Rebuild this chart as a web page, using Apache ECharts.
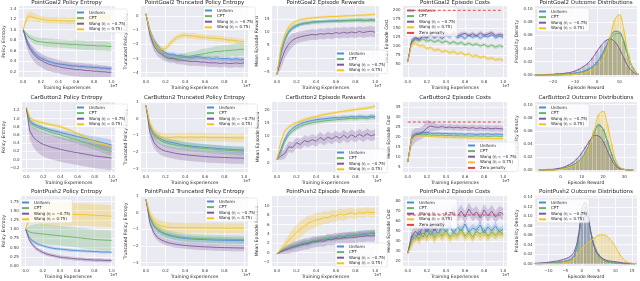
<!DOCTYPE html>
<html><head><meta charset="utf-8">
<script src="https://cdn.jsdelivr.net/npm/echarts@6/dist/echarts.min.js"></script>
<style>html,body{margin:0;padding:0;background:#fff}#c{width:640px;height:281px}</style>
</head><body><div id="c"></div><script>
// ===== DATA =====
var T = [0,0.04,0.08,0.12,0.16,0.2,0.24,0.28,0.32,0.36,0.4,0.44,0.48,0.52,0.56,0.6,0.64,0.68,0.72,0.76,0.8,0.84,0.88,0.92,0.96,1];
var methodNames = ['Uniform','CPT','Wang (η = −0.75)','Wang (η = 0.75)'];
var limitName = 'Zero penalty';

// PointGoal2 policy entropy
var pg2Ent_uni = [1.00,0.80,0.66,0.57,0.50,0.46,0.43,0.40,0.38,0.36,0.35,0.34,0.33,0.32,0.31,0.31,0.30,0.30,0.29,0.29,0.28,0.28,0.27,0.27,0.26,0.26];
var pg2Ent_uni_sd = [0.01,0.04,0.04,0.04,0.04,0.035,0.035,0.03,0.03,0.03,0.03,0.03,0.03,0.03,0.03,0.03,0.03,0.03,0.03,0.03,0.03,0.03,0.03,0.03,0.03,0.03];
var pg2Ent_cpt = [1.00,0.90,0.84,0.80,0.78,0.77,0.76,0.75,0.75,0.74,0.74,0.73,0.73,0.72,0.72,0.72,0.71,0.71,0.70,0.70,0.70,0.69,0.69,0.69,0.68,0.68];
var pg2Ent_cpt_sd = [0.01,0.05,0.06,0.07,0.07,0.07,0.08,0.08,0.08,0.08,0.08,0.08,0.08,0.08,0.08,0.09,0.09,0.09,0.09,0.09,0.09,0.09,0.09,0.09,0.09,0.09];
var pg2Ent_wn = [1.00,0.76,0.62,0.53,0.46,0.42,0.38,0.35,0.33,0.31,0.30,0.28,0.27,0.26,0.25,0.24,0.24,0.23,0.22,0.22,0.21,0.21,0.20,0.20,0.19,0.19];
var pg2Ent_wn_sd = [0.01,0.10,0.12,0.13,0.13,0.13,0.13,0.13,0.13,0.13,0.13,0.13,0.13,0.13,0.13,0.13,0.13,0.13,0.13,0.13,0.13,0.13,0.12,0.12,0.12,0.12];
var pg2Ent_wp = [1.00,1.22,1.26,1.23,1.21,1.20,1.19,1.18,1.18,1.18,1.17,1.17,1.17,1.16,1.17,1.17,1.18,1.19,1.19,1.20,1.21,1.22,1.22,1.23,1.25,1.27];
var pg2Ent_wp_sd = [0.02,0.09,0.09,0.08,0.07,0.06,0.06,0.06,0.06,0.06,0.06,0.06,0.06,0.06,0.06,0.06,0.07,0.07,0.07,0.07,0.08,0.08,0.09,0.09,0.10,0.10];

// PointGoal2 truncated policy entropy
var pg2Tr_uni = [0.15,-1.0,-1.7,-2.1,-2.4,-2.6,-2.7,-2.7,-2.8,-2.8,-2.85,-2.9,-2.9,-2.85,-2.9,-2.95,-2.95,-3.0,-2.95,-3.0,-3.0,-3.0,-3.05,-3.0,-3.05,-3.05];
var pg2Tr_uni_sd = [0.05,0.2,0.2,0.2,0.2,0.15,0.15,0.15,0.15,0.15,0.15,0.15,0.15,0.15,0.15,0.15,0.15,0.15,0.15,0.15,0.15,0.15,0.15,0.15,0.15,0.15];
var pg2Tr_cpt = [0.15,-1.1,-1.9,-2.3,-2.6,-2.8,-2.9,-2.95,-3.0,-2.95,-2.9,-2.85,-2.8,-2.75,-2.7,-2.65,-2.6,-2.55,-2.5,-2.5,-2.45,-2.45,-2.4,-2.4,-2.35,-2.35];
var pg2Tr_cpt_sd = [0.05,0.25,0.25,0.25,0.25,0.25,0.25,0.25,0.25,0.3,0.3,0.3,0.3,0.3,0.35,0.35,0.35,0.35,0.4,0.4,0.4,0.4,0.4,0.45,0.45,0.45];
var pg2Tr_wn = [0.15,-1.3,-2.1,-2.5,-2.7,-2.9,-3.0,-3.0,-3.1,-3.1,-3.15,-3.2,-3.2,-3.2,-3.25,-3.25,-3.3,-3.3,-3.3,-3.35,-3.3,-3.35,-3.35,-3.3,-3.35,-3.3];
var pg2Tr_wn_sd = [0.05,0.35,0.35,0.35,0.35,0.3,0.3,0.3,0.3,0.3,0.3,0.3,0.3,0.3,0.3,0.3,0.3,0.3,0.3,0.3,0.3,0.3,0.3,0.3,0.3,0.3];
var pg2Tr_wp = [0.15,-1.0,-1.8,-2.2,-2.35,-2.3,-2.0,-1.7,-1.5,-1.4,-1.35,-1.4,-1.4,-1.45,-1.5,-1.5,-1.55,-1.55,-1.6,-1.6,-1.65,-1.7,-1.7,-1.75,-1.8,-1.8];
var pg2Tr_wp_sd = [0.05,0.2,0.2,0.2,0.2,0.2,0.2,0.2,0.2,0.2,0.2,0.2,0.2,0.2,0.2,0.2,0.2,0.2,0.2,0.2,0.2,0.2,0.2,0.2,0.2,0.2];

// PointGoal2 episode rewards
var pg2Rw_uni = [-6,2,7,10,11.5,12.3,13.0,13.3,13.5,13.8,14.0,14.1,14.0,14.3,14.2,14.4,14.3,14.5,14.4,14.6,14.5,14.7,14.6,14.5,14.8,14.6];
var pg2Rw_uni_sd = [0.5,1.5,1.2,1.0,0.8,0.7,0.6,0.6,0.6,0.6,0.6,0.6,0.6,0.6,0.6,0.6,0.6,0.6,0.6,0.6,0.6,0.6,0.6,0.6,0.6,0.6];
var pg2Rw_cpt = [-6,2.5,7.5,10.5,12,12.8,13.2,13.5,13.6,13.9,13.8,14.0,14.2,14.1,14.3,14.2,14.4,14.3,14.5,14.4,14.6,14.5,14.4,14.6,14.5,14.4];
var pg2Rw_cpt_sd = [0.5,1.5,1.2,1.0,0.9,0.8,0.8,0.8,0.8,0.8,0.8,0.8,0.8,0.8,0.8,0.8,0.8,0.8,0.8,0.8,0.8,0.8,0.8,0.8,0.8,0.8];
var pg2Rw_wn = [-6,-1,3,5.5,7,7.8,8.3,8.6,8.9,9.2,9.0,9.5,9.3,9.7,9.4,9.9,9.6,10.0,9.7,10.1,9.8,10.3,9.9,10.2,10.4,10.0];
var pg2Rw_wn_sd = [0.5,3,3,2.8,2.5,2.2,2,2,2,2,2,2,2,2,2,2,2,2,2,2,2,2,2,2,2,2];
var pg2Rw_wp = [-6,4,9,12,13.5,14.3,14.8,15.0,15.3,15.4,15.6,15.7,15.8,15.9,16.0,16.0,16.1,16.2,16.3,16.3,16.4,16.5,16.5,16.6,16.7,16.8];
var pg2Rw_wp_sd = [0.5,1.2,1.0,0.8,0.6,0.5,0.5,0.5,0.5,0.5,0.5,0.5,0.5,0.5,0.5,0.5,0.5,0.5,0.5,0.5,0.5,0.5,0.5,0.5,0.5,0.5];

// PointGoal2 episode costs
var pg2Cs_uni = [58,115,122,119,128,123,131,124,129,121,130,126,133,124,128,122,131,125,130,123,129,126,132,124,128,125];
var pg2Cs_uni_sd = [5,8,6,5,5,5,5,5,5,5,5,5,5,5,5,5,5,5,5,5,5,5,5,5,5,5];
var pg2Cs_cpt = [58,112,120,115,121,114,118,112,117,110,115,108,113,107,111,104,109,103,107,101,105,99,103,98,102,99];
var pg2Cs_cpt_sd = [5,8,6,5,5,5,5,5,5,5,5,5,5,5,5,5,5,5,5,5,5,5,5,5,5,5];
var pg2Cs_wn = [58,112,124,120,130,126,133,127,135,128,134,130,137,129,133,136,130,135,129,137,131,134,138,130,133,131];
var pg2Cs_wn_sd = [5,9,7,6,6,6,6,6,6,6,6,6,6,6,6,6,6,6,6,6,6,6,6,6,6,6];
var pg2Cs_wp = [58,105,110,101,102,94,97,89,92,85,88,82,86,79,83,76,79,72,75,69,72,65,68,62,65,61];
var pg2Cs_wp_sd = [5,8,6,5,5,5,5,5,5,5,5,5,5,5,5,5,5,5,5,5,5,5,5,5,5,5];
var pg2Limit = 200;

// PointGoal2 outcome distributions
var pg2Out_x = [-28,-26,-24,-22,-20,-18,-16,-14,-12,-10,-8,-6,-4,-2,0,2,4,6,8,10,12,14,16,18];
var pg2Out_uni = [0,0,0,0,0,0,0.001,0.001,0.002,0.003,0.004,0.006,0.009,0.013,0.020,0.030,0.043,0.057,0.066,0.065,0.050,0.028,0.010,0.003];
var pg2Out_cpt = [0,0,0,0,0,0,0,0.001,0.001,0.002,0.003,0.005,0.008,0.012,0.018,0.027,0.040,0.053,0.062,0.063,0.052,0.030,0.012,0.003];
var pg2Out_wn = [0,0,0,0.001,0.001,0.002,0.002,0.003,0.004,0.006,0.009,0.013,0.018,0.026,0.036,0.045,0.052,0.054,0.050,0.040,0.026,0.013,0.005,0.001];
var pg2Out_wp = [0,0,0,0,0,0,0,0,0,0.001,0.002,0.003,0.005,0.008,0.012,0.020,0.035,0.058,0.083,0.091,0.068,0.032,0.010,0.002];

// CarButton2 policy entropy
var cb2Ent_uni = [1.24,0.95,0.87,0.83,0.80,0.77,0.75,0.72,0.70,0.68,0.66,0.64,0.62,0.60,0.58,0.56,0.54,0.52,0.50,0.48,0.46,0.44,0.42,0.40,0.38,0.36];
var cb2Ent_uni_sd = [0.02,0.05,0.05,0.05,0.05,0.05,0.05,0.05,0.06,0.06,0.06,0.06,0.07,0.07,0.07,0.08,0.08,0.09,0.09,0.1,0.1,0.11,0.11,0.12,0.12,0.12];
var cb2Ent_cpt = [1.24,0.92,0.84,0.79,0.76,0.73,0.70,0.67,0.64,0.62,0.60,0.57,0.55,0.52,0.50,0.48,0.45,0.42,0.40,0.37,0.34,0.31,0.28,0.25,0.22,0.20];
var cb2Ent_cpt_sd = [0.02,0.08,0.08,0.08,0.08,0.08,0.08,0.08,0.08,0.09,0.09,0.09,0.09,0.09,0.09,0.1,0.1,0.1,0.1,0.1,0.1,0.1,0.1,0.1,0.1,0.1];
var cb2Ent_wn = [1.24,0.70,0.55,0.47,0.41,0.37,0.34,0.31,0.29,0.27,0.25,0.23,0.21,0.20,0.18,0.17,0.15,0.14,0.12,0.11,0.09,0.08,0.07,0.06,0.05,0.04];
var cb2Ent_wn_sd = [0.05,0.2,0.25,0.27,0.28,0.3,0.3,0.3,0.3,0.3,0.3,0.3,0.3,0.3,0.3,0.3,0.3,0.3,0.3,0.3,0.3,0.3,0.3,0.3,0.3,0.3];
var cb2Ent_wp = [1.28,1.02,0.96,0.93,0.91,0.89,0.87,0.85,0.83,0.82,0.80,0.77,0.74,0.71,0.67,0.64,0.60,0.56,0.52,0.48,0.44,0.41,0.38,0.36,0.34,0.32];
var cb2Ent_wp_sd = [0.04,0.05,0.04,0.04,0.04,0.04,0.04,0.04,0.04,0.04,0.04,0.04,0.04,0.04,0.04,0.04,0.04,0.04,0.04,0.04,0.04,0.04,0.04,0.04,0.04,0.04];

// CarButton2 truncated policy entropy
var cb2Tr_uni = [0.8,-0.4,-0.9,-1.1,-1.25,-1.35,-1.4,-1.45,-1.5,-1.55,-1.6,-1.62,-1.65,-1.68,-1.7,-1.72,-1.74,-1.76,-1.78,-1.8,-1.82,-1.83,-1.85,-1.86,-1.87,-1.88];
var cb2Tr_uni_sd = [0.05,0.2,0.2,0.2,0.2,0.2,0.2,0.2,0.2,0.2,0.2,0.2,0.2,0.2,0.2,0.2,0.2,0.2,0.2,0.2,0.2,0.2,0.2,0.2,0.2,0.2];
var cb2Tr_cpt = [0.8,-0.5,-1.0,-1.2,-1.35,-1.45,-1.5,-1.55,-1.6,-1.63,-1.66,-1.69,-1.72,-1.75,-1.77,-1.79,-1.81,-1.83,-1.85,-1.87,-1.89,-1.9,-1.92,-1.93,-1.94,-1.95];
var cb2Tr_cpt_sd = [0.05,0.25,0.25,0.25,0.25,0.25,0.25,0.25,0.25,0.25,0.25,0.25,0.25,0.25,0.25,0.25,0.25,0.25,0.25,0.25,0.25,0.25,0.25,0.25,0.25,0.25];
var cb2Tr_wn = [0.8,-0.8,-1.4,-1.7,-1.85,-1.95,-2.0,-2.05,-2.1,-2.13,-2.16,-2.19,-2.21,-2.23,-2.25,-2.27,-2.29,-2.3,-2.31,-2.32,-2.33,-2.34,-2.35,-2.36,-2.36,-2.37];
var cb2Tr_wn_sd = [0.05,0.35,0.35,0.35,0.35,0.35,0.35,0.35,0.35,0.35,0.35,0.35,0.35,0.35,0.35,0.35,0.35,0.35,0.35,0.35,0.35,0.35,0.35,0.35,0.35,0.35];
var cb2Tr_wp = [0.8,-0.3,-0.8,-1.0,-1.1,-1.12,-1.13,-1.12,-1.1,-1.11,-1.12,-1.1,-1.11,-1.12,-1.1,-1.11,-1.12,-1.13,-1.12,-1.14,-1.13,-1.15,-1.14,-1.15,-1.16,-1.15];
var cb2Tr_wp_sd = [0.05,0.25,0.25,0.25,0.25,0.25,0.25,0.25,0.25,0.25,0.25,0.25,0.25,0.25,0.25,0.25,0.25,0.25,0.25,0.25,0.25,0.25,0.25,0.25,0.25,0.25];

// CarButton2 episode rewards
var cb2Rw_uni = [1.3,5,9,11.5,13,14,14.8,15.3,15.7,16.0,16.3,16.5,16.6,16.8,17.0,17.1,17.0,17.3,17.2,17.5,17.3,17.6,17.4,17.3,17.7,17.5];
var cb2Rw_uni_sd = [0.3,1,1,0.9,0.8,0.8,0.8,0.8,0.8,0.8,0.8,0.8,0.8,0.8,0.8,0.8,0.8,0.8,0.8,0.8,0.8,0.8,0.8,0.8,0.8,0.8];
var cb2Rw_cpt = [1.3,4,8,10.5,12,13,13.8,14.4,14.8,15.1,15.4,15.6,15.8,16.0,16.1,16.3,16.4,16.5,16.7,16.8,16.6,16.9,17.0,16.8,17.1,17.0];
var cb2Rw_cpt_sd = [0.3,1,1,0.9,0.8,0.8,0.8,0.8,0.8,0.8,0.8,0.8,0.8,0.8,0.8,0.8,0.8,0.8,0.8,0.8,0.8,0.8,0.8,0.8,0.8,0.8];
var cb2Rw_wn = [1.3,2.5,3.5,6.0,5.8,7.6,6.9,8.4,7.9,8.8,8.1,9.6,8.5,9.8,9.0,10.1,9.2,10.4,9.4,10.6,9.7,10.8,9.9,11.0,10.1,10.7];
var cb2Rw_wn_sd = [0.3,1.5,2,2,2,2,2,2,2,2,2,2,2,2,2,2,2,2,2,2,2,2,2,2,2,2];
var cb2Rw_wp = [1.3,8,12,13.5,14.5,15.2,15.8,16.3,16.8,17.2,17.5,17.9,18.2,18.5,18.8,19.0,19.3,19.5,19.7,19.9,20.1,20.3,20.5,20.7,21.0,21.5];
var cb2Rw_wp_sd = [0.3,1,0.8,0.6,0.6,0.6,0.6,0.6,0.6,0.6,0.6,0.6,0.6,0.6,0.6,0.6,0.6,0.6,0.6,0.6,0.6,0.6,0.6,0.6,0.6,0.6];

// CarButton2 episode costs
var cb2Cs_uni = [7.5,20,21.5,22,22.3,22.2,22.0,21.8,21.9,21.7,21.8,21.6,21.7,21.5,21.6,21.4,21.6,21.5,21.3,21.5,21.4,21.6,21.3,21.5,21.4,21.3];
var cb2Cs_uni_sd = [0.5,1.5,1,0.8,0.7,0.7,0.7,0.7,0.7,0.7,0.7,0.7,0.7,0.7,0.7,0.7,0.7,0.7,0.7,0.7,0.7,0.7,0.7,0.7,0.7,0.7];
var cb2Cs_cpt = [7.5,19.5,21,21.3,21.4,21.2,21.0,20.9,20.8,20.9,20.7,20.8,20.6,20.7,20.5,20.6,20.5,20.4,20.6,20.4,20.5,20.3,20.4,20.5,20.3,20.4];
var cb2Cs_cpt_sd = [0.5,1.5,1,0.8,0.7,0.7,0.7,0.7,0.7,0.7,0.7,0.7,0.7,0.7,0.7,0.7,0.7,0.7,0.7,0.7,0.7,0.7,0.7,0.7,0.7,0.7];
var cb2Cs_wn = [7.5,19,21,21.5,22.5,24.5,25.5,25,24.8,25.2,24.7,25.0,24.6,24.9,24.5,24.8,24.4,24.7,24.3,24.6,24.2,24.5,24.1,24.4,24.2,24.0];
var cb2Cs_wn_sd = [0.5,4,3.5,3,3,4,2.5,2,1.5,1.5,1.5,1.5,1.5,1.5,1.5,1.5,1.5,1.5,1.5,1.5,1.5,1.5,1.5,1.5,1.5,1.5];
var cb2Cs_wp = [7.5,19,20.5,20.8,20.6,20.4,20.2,20.1,20.0,19.9,19.8,19.9,19.7,19.8,19.6,19.7,19.5,19.6,19.4,19.5,19.3,19.4,19.3,19.2,19.3,19.2];
var cb2Cs_wp_sd = [0.5,1.5,1,0.8,0.7,0.7,0.7,0.7,0.7,0.7,0.7,0.7,0.7,0.7,0.7,0.7,0.7,0.7,0.7,0.7,0.7,0.7,0.7,0.7,0.7,0.7];
var cb2Limit = 27.5;

// CarButton2 outcome distributions
var cb2Out_x = [-10,-8,-6,-4,-2,0,2,4,6,8,10,12,14,16,18,20,22,24,26,28,30,32,34];
var cb2Out_uni = [0,0,0,0,0.001,0.002,0.003,0.005,0.008,0.012,0.018,0.028,0.042,0.058,0.068,0.062,0.045,0.025,0.010,0.003,0.001,0,0];
var cb2Out_cpt = [0,0,0,0,0.001,0.002,0.003,0.005,0.008,0.012,0.018,0.028,0.043,0.060,0.070,0.063,0.044,0.024,0.009,0.003,0.001,0,0];
var cb2Out_wn = [0,0,0.001,0.001,0.002,0.003,0.005,0.008,0.012,0.018,0.026,0.036,0.046,0.053,0.052,0.044,0.030,0.016,0.006,0.002,0.001,0,0];
var cb2Out_wp = [0,0,0,0,0,0.001,0.002,0.004,0.006,0.010,0.016,0.025,0.040,0.062,0.085,0.090,0.070,0.040,0.015,0.004,0.001,0,0];

// PointPush2 policy entropy
var pp2Ent_uni = [1.0,0.78,0.68,0.62,0.58,0.55,0.52,0.50,0.48,0.47,0.46,0.45,0.44,0.43,0.42,0.42,0.41,0.41,0.40,0.40,0.39,0.39,0.38,0.38,0.38,0.37];
var pp2Ent_uni_sd = [0.01,0.04,0.04,0.04,0.04,0.04,0.04,0.04,0.04,0.04,0.04,0.04,0.04,0.04,0.04,0.04,0.04,0.04,0.04,0.04,0.04,0.04,0.04,0.04,0.04,0.04];
var pp2Ent_cpt = [1.0,0.93,0.9,0.89,0.88,0.87,0.86,0.85,0.84,0.83,0.82,0.81,0.80,0.79,0.78,0.77,0.76,0.75,0.74,0.73,0.72,0.71,0.71,0.70,0.70,0.69];
var pp2Ent_cpt_sd = [0.02,0.15,0.22,0.25,0.26,0.27,0.27,0.27,0.27,0.27,0.27,0.27,0.27,0.27,0.27,0.27,0.27,0.27,0.27,0.27,0.27,0.27,0.27,0.27,0.27,0.27];
var pp2Ent_wn = [1.0,0.72,0.58,0.48,0.42,0.37,0.33,0.30,0.28,0.26,0.24,0.23,0.22,0.21,0.20,0.19,0.19,0.18,0.17,0.17,0.16,0.16,0.16,0.15,0.15,0.15];
var pp2Ent_wn_sd = [0.01,0.05,0.05,0.05,0.05,0.05,0.05,0.05,0.05,0.05,0.05,0.05,0.05,0.05,0.05,0.05,0.05,0.05,0.05,0.05,0.05,0.05,0.05,0.05,0.05,0.05];
var pp2Ent_wp = [1.0,1.3,1.42,1.45,1.42,1.40,1.40,1.41,1.40,1.39,1.40,1.41,1.40,1.39,1.40,1.40,1.39,1.40,1.39,1.38,1.38,1.37,1.37,1.36,1.36,1.35];
var pp2Ent_wp_sd = [0.02,0.15,0.22,0.26,0.28,0.3,0.3,0.3,0.3,0.3,0.3,0.3,0.3,0.3,0.3,0.3,0.3,0.3,0.3,0.3,0.3,0.3,0.3,0.3,0.3,0.3];

// PointPush2 truncated policy entropy
var pp2Tr_uni = [0.8,-0.3,-0.8,-1.05,-1.2,-1.3,-1.38,-1.44,-1.48,-1.52,-1.55,-1.57,-1.59,-1.6,-1.61,-1.62,-1.63,-1.64,-1.65,-1.65,-1.66,-1.66,-1.67,-1.67,-1.68,-1.68];
var pp2Tr_uni_sd = [0.05,0.2,0.2,0.2,0.2,0.2,0.2,0.2,0.2,0.2,0.2,0.2,0.2,0.2,0.2,0.2,0.2,0.2,0.2,0.2,0.2,0.2,0.2,0.2,0.2,0.2];
var pp2Tr_cpt = [0.8,-0.25,-0.75,-1.0,-1.15,-1.25,-1.32,-1.38,-1.42,-1.46,-1.49,-1.51,-1.53,-1.54,-1.55,-1.56,-1.57,-1.58,-1.59,-1.59,-1.6,-1.6,-1.61,-1.61,-1.62,-1.62];
var pp2Tr_cpt_sd = [0.05,0.25,0.25,0.25,0.25,0.25,0.25,0.25,0.25,0.25,0.25,0.25,0.25,0.25,0.25,0.25,0.25,0.25,0.25,0.25,0.25,0.25,0.25,0.25,0.25,0.25];
var pp2Tr_wn = [0.8,-0.6,-1.2,-1.5,-1.65,-1.75,-1.82,-1.87,-1.91,-1.94,-1.97,-1.99,-2.01,-2.02,-2.04,-2.05,-2.06,-2.07,-2.08,-2.09,-2.1,-2.1,-2.11,-2.11,-2.12,-2.12];
var pp2Tr_wn_sd = [0.05,0.2,0.2,0.2,0.2,0.2,0.2,0.2,0.2,0.2,0.2,0.2,0.2,0.2,0.2,0.2,0.2,0.2,0.2,0.2,0.2,0.2,0.2,0.2,0.2,0.2];
var pp2Tr_wp = [0.8,-0.1,-0.5,-0.7,-0.8,-0.85,-0.88,-0.9,-0.9,-0.91,-0.9,-0.92,-0.91,-0.9,-0.92,-0.91,-0.93,-0.92,-0.91,-0.93,-0.92,-0.94,-0.93,-0.92,-0.94,-0.93];
var pp2Tr_wp_sd = [0.05,0.3,0.3,0.3,0.3,0.3,0.3,0.3,0.3,0.3,0.3,0.3,0.3,0.3,0.3,0.3,0.3,0.3,0.3,0.3,0.3,0.3,0.3,0.3,0.3,0.3];

// PointPush2 episode rewards
var pp2Rw_uni = [-0.3,0.3,0.7,1.0,1.3,1.5,1.8,2.0,2.1,2.4,2.5,2.7,2.8,3.0,3.1,3.2,3.4,3.3,3.6,3.7,3.6,3.9,3.8,4.0,4.1,4.0];
var pp2Rw_uni_sd = [0.1,0.3,0.4,0.5,0.5,0.5,0.5,0.5,0.5,0.5,0.5,0.5,0.5,0.5,0.5,0.5,0.5,0.5,0.5,0.5,0.5,0.5,0.5,0.5,0.5,0.5];
var pp2Rw_cpt = [-0.3,0.2,0.6,1.0,1.2,1.6,1.7,2.1,2.0,2.4,2.6,2.6,2.9,3.0,3.2,3.1,3.5,3.4,3.7,3.6,3.9,3.8,4.1,4.0,4.2,4.3];
var pp2Rw_cpt_sd = [0.1,0.4,0.5,0.6,0.7,0.7,0.7,0.7,0.7,0.7,0.7,0.7,0.7,0.7,0.7,0.7,0.7,0.7,0.7,0.7,0.7,0.7,0.7,0.7,0.7,0.7];
var pp2Rw_wn = [-0.3,0.2,0.5,0.8,1.1,1.3,1.6,1.8,1.9,2.2,2.3,2.5,2.4,2.8,2.7,3.0,2.9,3.2,3.1,3.3,3.2,3.5,3.4,3.6,3.5,3.6];
var pp2Rw_wn_sd = [0.1,0.5,0.8,1.0,1.1,1.2,1.2,1.2,1.2,1.2,1.2,1.2,1.2,1.2,1.2,1.2,1.2,1.2,1.2,1.2,1.2,1.2,1.2,1.2,1.2,1.2];
var pp2Rw_wp = [-0.3,0.6,1.5,2.6,3.5,4.3,5.0,5.6,6.3,6.6,7.0,7.1,7.5,7.4,7.9,7.8,8.2,8.0,8.3,8.5,8.2,8.6,8.4,8.7,8.5,8.6];
var pp2Rw_wp_sd = [0.2,0.6,1.0,1.3,1.5,1.6,1.7,1.7,1.6,1.5,1.5,1.4,1.4,1.3,1.3,1.2,1.2,1.2,1.1,1.1,1.1,1.0,1.0,1.0,1.0,1.0];

// PointPush2 episode costs
var pp2Cs_uni = [28,45,42,50,44,53,46,52,47,55,49,56,48,54,50,57,49,53,51,56,48,54,50,55,49,52];
var pp2Cs_uni_sd = [2,4,4,4,4,4,4,4,4,4,4,4,4,4,4,4,4,4,4,4,4,4,4,4,4,4];
var pp2Cs_cpt = [28,40,46,42,48,44,50,43,49,45,51,44,48,46,52,45,49,44,50,47,51,45,49,46,50,47];
var pp2Cs_cpt_sd = [2,4,4,4,4,4,4,4,4,4,4,4,4,4,4,4,4,4,4,4,4,4,4,4,4,4];
var pp2Cs_wn = [28,44,50,46,55,49,56,50,58,52,68,63,71,65,70,64,72,66,69,63,71,65,70,64,69,67];
var pp2Cs_wn_sd = [2,6,6,6,6,6,6,6,6,6,6,6,6,6,6,6,6,6,6,6,6,6,6,6,6,6];
var pp2Cs_wp = [28,36,44,40,47,42,46,41,48,43,47,42,46,44,49,43,47,42,48,44,47,43,48,45,47,46];
var pp2Cs_wp_sd = [2,4,4,4,4,4,4,4,4,4,4,4,4,4,4,4,4,4,4,4,4,4,4,4,4,4];
var pp2Limit = 66;

// PointPush2 outcome distributions
var pp2Out_x = [-14,-13,-12,-11,-10,-9,-8,-7,-6,-5,-4,-3,-2,-1,0,1,2,3,4,5,6,7,8,9,10,11,12,13,14,15,16];
var pp2Out_uni = [0,0,0,0.001,0.001,0.002,0.002,0.003,0.004,0.005,0.007,0.011,0.022,0.052,0.100,0.112,0.090,0.058,0.034,0.020,0.012,0.007,0.004,0.003,0.002,0.001,0.001,0,0,0,0];
var pp2Out_cpt = [0,0,0,0.001,0.001,0.002,0.002,0.003,0.004,0.005,0.007,0.010,0.020,0.050,0.105,0.120,0.092,0.055,0.030,0.016,0.009,0.005,0.003,0.002,0.001,0.001,0,0,0,0,0];
var pp2Out_wn = [0.001,0.001,0.002,0.002,0.003,0.004,0.005,0.006,0.008,0.010,0.013,0.018,0.030,0.060,0.115,0.130,0.095,0.055,0.030,0.018,0.012,0.008,0.006,0.005,0.004,0.003,0.002,0.001,0.001,0,0];
var pp2Out_wp = [0,0,0,0,0,0,0,0,0.001,0.002,0.003,0.006,0.012,0.022,0.032,0.040,0.045,0.050,0.056,0.060,0.061,0.060,0.055,0.047,0.036,0.024,0.013,0.006,0.002,0.001,0];

// ===== LAYOUT / STYLE =====
var COLORS = {uni:'#4C8DD6', cpt:'#6BB26A', wn:'#7D5A9E', wp:'#F4C31A'};
var KEYS = ['uni','cpt','wn','wp'];
var ROWS = [[6,71],[102,70],[196,70]];
var COLS = [[18,97],[141,107],[272,107],[403,104],[535,102]];
var TX = [0,0.2,0.4,0.6,0.8,1.0];

function ts(r,c,title,yName,ymin,ymax,yt,yd,pref,leg,limit){
  return {r,c,title,yName,xName:'Training Experiences',x:[-0.05,1.04],xt:TX,xd:1,y:[ymin,ymax],yt,yd,kind:'ts',
    d:KEYS.map(k=>[k, window[pref+'_'+k], window[pref+'_'+k+'_sd']]), leg, limit};
}
function dist(r,c,title,xmin,xmax,xt,ymin,ymax,yt,xs,pref,leg,bw){
  return {r,c,title,yName:'Probability Density',xName:'Episode Reward',x:[xmin,xmax],xt,xd:0,y:[ymin,ymax],yt,yd:2,kind:'dist',
    xs, d:KEYS.map(k=>[k, window[pref+'_'+k]]), leg, bw};
}
</script><script>
var panels = [
  ts(0,0,'PointGoal2 Policy Entropy','Policy Entropy',0.1,1.45,[0.2,0.4,0.6,0.8,1.0,1.2,1.4],1,'pg2Ent',{left:75,top:9}),
  ts(0,1,'PointGoal2 Truncated Policy Entropy','Truncated Policy Entropy',-4.3,0.7,[-4,-3,-2,-1,0],0,'pg2Tr',{left:203,top:7}),
  ts(0,2,'PointGoal2 Episode Rewards','Mean Episode Reward',-7,20,[-5,0,5,10,15],0,'pg2Rw',{left:335,top:50}),
  ts(0,3,'PointGoal2 Episode Costs','Mean Episode Cost',15,212,[50,75,100,125,150,175,200],0,'pg2Cs',{left:405,top:7},pg2Limit),
  dist(0,4,'PointGoal2 Outcome Distributions',-28,18,[-20,-10,0,10],-0.003,0.104,[0,0.02,0.04,0.06,0.08,0.10],pg2Out_x,'pg2Out',{left:537,top:8},3.5),
  ts(1,0,'CarButton2 Policy Entropy','Policy Entropy',-0.3,1.4,[-0.2,0,0.2,0.4,0.6,0.8,1.0,1.2],1,'cb2Ent',{left:75,top:104}),
  ts(1,1,'CarButton2 Truncated Policy Entropy','Truncated Policy Entropy',-3.2,1.0,[-3,-2,-1,0,1],0,'cb2Tr',{left:205,top:104}),
  ts(1,2,'CarButton2 Episode Rewards','Mean Episode Reward',-3.5,23,[0,5,10,15,20],0,'cb2Rw',{left:335,top:149}),
  ts(1,3,'CarButton2 Episode Costs','Mean Episode Cost',2.5,37.5,[5,10,15,20,25,30,35],0,'cb2Cs',{left:466,top:142},cb2Limit),
  dist(1,4,'CarButton2 Outcome Distributions',-12,36,[0,10,20,30],-0.003,0.104,[0,0.02,0.04,0.06,0.08,0.10],cb2Out_x,'cb2Out',{left:537,top:104},3.5),
  ts(2,0,'PointPush2 Policy Entropy','Policy Entropy',0,1.9,[0,0.25,0.5,0.75,1.0,1.25,1.5,1.75],2,'pp2Ent',{left:20,top:199}),
  ts(2,1,'PointPush2 Truncated Policy Entropy','Truncated Policy Entropy',-3.2,1.0,[-3,-2,-1,0,1],0,'pp2Tr',{left:205,top:198}),
  ts(2,2,'PointPush2 Episode Rewards','Mean Episode Reward',-2.9,12.1,[-2,0,2,4,6,8,10],0,'pp2Rw',{left:335,top:243}),
  ts(2,3,'PointPush2 Episode Costs','Mean Episode Cost',15,85,[20,30,40,50,60,70,80],0,'pp2Cs',{left:405,top:199},pp2Limit),
  dist(2,4,'PointPush2 Outcome Distributions',-14,16.5,[-10,-5,0,5,10,15],-0.005,0.143,[0,0.02,0.04,0.06,0.08,0.10,0.12,0.14],pp2Out_x,'pp2Out',{left:537,top:199},2.6)
];

var fmt = d => v => v.toFixed(d).replace('-', '\u2212');
var option = {animation:false, backgroundColor:'#ffffff', textStyle:{fontFamily:'DejaVu Sans'},
  title:[], grid:[], xAxis:[], yAxis:[], legend:[], series:[], graphic:[]};

function bandSeries(i, xs, lo, hi, col){
  return {type:'custom', xAxisIndex:i, yAxisIndex:i, silent:true, clip:true, z:1,
    encode:{x:0, y:[1,2]}, data: xs.map((x,j)=>[x, lo[j], hi[j]]),
    renderItem:(params, api)=>{
      if (params.dataIndex!==0) return null;
      const pts = [];
      for (let j=0;j<xs.length;j++) pts.push(api.coord([xs[j], hi[j]]));
      for (let j=xs.length-1;j>=0;j--) pts.push(api.coord([xs[j], lo[j]]));
      return {type:'polygon', shape:{points:pts}, style:{fill:col, opacity:0.28}};
    }};
}

panels.forEach((p,i)=>{
  const [top,h] = ROWS[p.r], [left,w] = COLS[p.c];
  option.grid.push({left, top, width:w, height:h, show:true, backgroundColor:'#EAEAF2', borderWidth:0});
  option.title.push({text:p.title, left:left+w/2, top:top-(p.r===0?6.2:7), textAlign:'center', padding:0,
    textStyle:{fontSize:5.5, fontWeight:'normal', color:'#262626'}});
  option.xAxis.push({type:'value', gridIndex:i, min:p.x[0], max:p.x[1], name:p.xName, nameLocation:'middle', nameGap:8,
    nameTextStyle:{fontSize:4.6, color:'#262626'}, axisLine:{show:false}, axisTick:{show:false, customValues:p.xt},
    axisLabel:{customValues:p.xt, fontSize:4, margin:2.5, color:'#3a3a3a', formatter:fmt(p.xd)},
    splitLine:{show:true, lineStyle:{color:'#ffffff', width:0.8}}});
  option.yAxis.push({type:'value', gridIndex:i, min:p.y[0], max:p.y[1], name:p.yName, nameLocation:'middle', nameRotate:90,
    nameGap:p.kind==='dist'?14:(p.yd>0?11:10), nameTextStyle:{fontSize:4.6, color:'#262626'}, axisLine:{show:false},
    axisTick:{show:false, customValues:p.yt},
    axisLabel:{customValues:p.yt, fontSize:4, margin:2.5, color:'#3a3a3a', formatter:fmt(p.yd)},
    splitLine:{show:true, lineStyle:{color:'#ffffff', width:0.8}}});
  const legData = KEYS.map((k,j)=>({name:methodNames[j]}));
  if (p.kind==='ts') {
    p.d.forEach(([k,m,sd])=>{
      option.series.push(bandSeries(i, T, m.map((v,j)=>v-sd[j]), m.map((v,j)=>v+sd[j]), COLORS[k]));
    });
    p.d.forEach(([k,m])=>{
      const col = COLORS[k];
      option.series.push({type:'line', name:methodNames[KEYS.indexOf(k)], xAxisIndex:i, yAxisIndex:i, symbol:'none',
        lineStyle:{width:0.9, color:col}, itemStyle:{color:col}, data:T.map((x,j)=>[x, m[j]]), z:3});
    });
    if (p.limit!==undefined) {
      option.series.push({type:'line', name:limitName, xAxisIndex:i, yAxisIndex:i, symbol:'none',
        lineStyle:{width:1, color:'#E8413C', type:[3,2]}, itemStyle:{color:'#E8413C'}, data:[[0,p.limit],[1,p.limit]], z:4});
      legData.push({name:limitName});
    }
    option.graphic.push({type:'text', left:left+w-5, top:top+h+6.5, style:{text:'1e7', fontSize:4, fill:'#3a3a3a', fontFamily:'DejaVu Sans'}});
  } else {
    p.d.forEach(([k,m])=>{
      const col = COLORS[k];
      option.series.push({type:'bar', name:'_h'+k, xAxisIndex:i, yAxisIndex:i, barWidth:p.bw, barGap:'-100%', silent:true,
        itemStyle:{color:col, opacity:0.3, borderColor:col, borderWidth:0.3}, data:p.xs.map((x,j)=>[x, m[j]]), z:2});
    });
    p.d.forEach(([k,m])=>{
      const col = COLORS[k];
      option.series.push({type:'line', name:methodNames[KEYS.indexOf(k)], xAxisIndex:i, yAxisIndex:i, symbol:'none', smooth:0.4,
        lineStyle:{width:1, color:col}, itemStyle:{color:col}, data:p.xs.map((x,j)=>[x, m[j]]), z:3});
    });
  }
  option.legend.push({data:legData, left:p.leg.left, top:p.leg.top, orient:'vertical', icon:'rect', itemWidth:7, itemHeight:2,
    itemGap:1.6, padding:[1.5,2,1.5,2], backgroundColor:'rgba(255,255,255,0.8)', borderColor:'#d6d6d6', borderWidth:0.5,
    borderRadius:1.5, selectedMode:false, textStyle:{fontSize:4, color:'#262626'}});
});

var chart = echarts.init(document.getElementById('c'), null, {renderer:'canvas'});
chart.setOption(option);
</script></body></html>
